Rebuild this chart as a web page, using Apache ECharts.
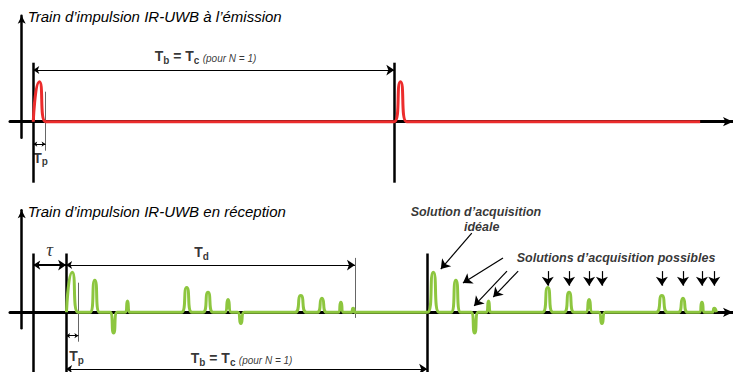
<!DOCTYPE html>
<html><head><meta charset="utf-8">
<script src="https://cdn.jsdelivr.net/npm/echarts@6/dist/echarts.min.js"></script>
<style>html,body{margin:0;padding:0;background:#fff}#c{width:733px;height:372px}</style>
</head><body><div id="c"></div>
<script>
// ---- data (time in arbitrary units, Tb = 100) ----
const titles = ['Train d’impulsion IR-UWB à l’émission', 'Train d’impulsion IR-UWB en réception'];
const PERIOD = 100;            // Tb = Tc
const TP = 3.4;                // pulse duration Tp
const TAU = 9.1;               // propagation delay tau
const TD = 80;                 // delay spread Td
const emitStarts = [3.2, 103.2];
const emitAmp = 1.0;
const emitLineEnd = 187.9;
const recvStarts = [12.3, 112.3];
const pathPeaks = [1.7, 7.95, 13.15, 17.0, 33.4, 39.3, 44.85, 48.4, 65.0, 70.85, 76.1, 79.5];
const pathAmps = [1.0, 0.8, -0.52, 0.28, 0.62, 0.5, 0.32, -0.28, 0.42, 0.35, 0.25, 0.1];
const pathHalfWidths = [1.6, 1.35, 1.0, 0.6, 1.45, 1.4, 0.9, 0.9, 1.6, 1.3, 0.75, 0.6];
const possibleIdx = [4, 5, 6, 7, 8, 9, 10, 11];

// ---- build series data ----
const red = [];
emitStarts.forEach(s => { red.push([s, 0], [s + TP / 2, emitAmp], [s + TP, 0]); });
red.push([emitLineEnd, 0]);

const green = [];
recvStarts.forEach(s => pathPeaks.forEach((p, i) => {
  const c = s + p, h = pathHalfWidths[i];
  green.push([c - h, 0], [c, pathAmps[i]], [c + h, 0]);
}));

const FONT = 'Liberation Sans';
const R = {
  b: {fontFamily: FONT, fontSize: 14, fontWeight: 'bold', color: '#000'},
  s: {fontFamily: FONT, fontSize: 10, fontWeight: 'bold', color: '#000', padding: [8, 0, 0, 0]},
  i: {fontFamily: FONT, fontSize: 10, fontStyle: 'italic', color: '#000', padding: [4, 0, 0, 0]},
  tau: {fontFamily: 'Liberation Serif', fontSize: 19, fontStyle: 'italic', color: '#000'},
  bi: {fontFamily: FONT, fontSize: 12.5, fontStyle: 'italic', fontWeight: 'bold', color: '#000'}
};
function lbl(x, y, f) {
  return {value: [x, y], label: {show: true, position: 'inside', formatter: f, rich: R}};
}
function linesSeries(g, coordsList, style, symbol, symbolSize) {
  return {
    type: 'lines', coordinateSystem: 'cartesian2d', xAxisIndex: g, yAxisIndex: g,
    polyline: false, clip: false, silent: true, z: 4,
    symbol: symbol || ['none', 'none'], symbolSize: symbolSize || 6,
    lineStyle: Object.assign({opacity: 1, curveness: 0}, style),
    data: coordsList.map(c => ({coords: c}))
  };
}

const tbLabel = '{b|T}{s|b}{b| = T}{s|c} {i|(pour N = 1)}';
const r0 = recvStarts[0], r1 = recvStarts[1];

const axisX = {
  type: 'value', min: -3.24, max: 197,
  axisLine: {show: true, onZero: true, symbol: ['none', 'arrow'], symbolSize: [7, 10], lineStyle: {color: '#000', width: 3}},
  axisTick: {show: false}, axisLabel: {show: false}, splitLine: {show: false}
};
function axisY(i, max) {
  return {
    type: 'value', min: -0.4, max: max, gridIndex: i,
    name: titles[i], nameLocation: 'end', nameGap: -1,
    nameTextStyle: {fontFamily: FONT, fontStyle: 'italic', fontSize: 15, color: '#000', align: 'left', verticalAlign: 'middle', padding: [0, 0, 0, 6]},
    axisLine: {show: true, onZero: true, symbol: ['none', 'arrow'], symbolSize: [6, 8], lineStyle: {color: '#000', width: 2.5}},
    axisTick: {show: false}, axisLabel: {show: false}, splitLine: {show: false}
  };
}

const option = {
  animation: false,
  backgroundColor: '#fff',
  grid: [
    {left: 10, right: 0, top: 15.7, height: 122},
    {left: 10, right: 0, top: 210.3, height: 118}
  ],
  xAxis: [Object.assign({gridIndex: 0}, axisX), Object.assign({gridIndex: 1}, axisX)],
  yAxis: [axisY(0, 2.65), axisY(1, 2.55)],
  series: [
    // black period markers
    linesSeries(0, emitStarts.map(s => [[s, 1.475], [s, -1.525]]), {color: '#000', width: 2.5}),
    linesSeries(1, [r0 - TAU, r0, r1].map(s => [[s, 1.47], [s, -1.5]]), {color: '#000', width: 2.5}),
    // thin grey markers (Tp, Td)
    linesSeries(0, [[[emitStarts[0] + TP, 0.75], [emitStarts[0] + TP, -0.725]]], {color: '#666', width: 1}),
    linesSeries(1, [[[r0 + TP, 0.74], [r0 + TP, -0.735]], [[r0 + TD, 1.36], [r0 + TD, -0.14]]], {color: '#666', width: 1}),
    // dimension arrows
    linesSeries(0, [[[emitStarts[0], 1.29], [emitStarts[0] + PERIOD, 1.29]]], {color: '#000', width: 1}, ['arrow', 'arrow'], [6, 8]),
    linesSeries(0, [[[emitStarts[0], -0.56], [emitStarts[0] + TP, -0.56]]], {color: '#000', width: 1}, ['arrow', 'arrow'], [4, 4]),
    linesSeries(1, [[[r0, 1.18], [r0 + TD, 1.18]], [[r0, -1.42], [r0 + PERIOD, -1.42]]], {color: '#000', width: 1}, ['arrow', 'arrow'], [6, 8]),
    linesSeries(1, [[[r0 - TAU, 1.18], [r0, 1.18]]], {color: '#000', width: 2}, ['arrow', 'arrow'], [7, 8]),
    linesSeries(1, [[[r0, -0.585], [r0 + TP, -0.585]]], {color: '#000', width: 1}, ['arrow', 'arrow'], [4, 4]),
    // annotation arrows
    linesSeries(1, [
      [[124.65, 1.98], [116.07, 1.08]],
      [[133.3, 1.36], [122.2, 0.73]],
      [[134.4, 1.03], [125.3, 0.16]],
      [[137.5, 1.03], [130.6, 0.38]]
    ].concat(possibleIdx.map(i => [[r1 + pathPeaks[i], 1.03], [r1 + pathPeaks[i], 0.665]])),
    {color: '#000', width: 1.2}, ['none', 'arrow'], [7, 9]),
    // signals
    {type: 'line', xAxisIndex: 0, yAxisIndex: 0, data: red, smooth: 0.7, symbol: 'none', clip: false, z: 6,
     lineStyle: {color: '#ec2c2c', width: 3}},
    {type: 'line', xAxisIndex: 1, yAxisIndex: 1, data: green, smooth: 0.7, symbol: 'none', clip: false, z: 6,
     lineStyle: {color: '#8dc63f', width: 3}},
    // text labels
    {type: 'scatter', xAxisIndex: 0, yAxisIndex: 0, symbolSize: 0, clip: false, silent: true, z: 10,
     data: [lbl(emitStarts[0] + 47.7, 1.64, tbLabel), lbl(emitStarts[0] + 2.0, -0.9, '{b|T}{s|p}')]},
    {type: 'scatter', xAxisIndex: 1, yAxisIndex: 1, symbolSize: 0, clip: false, silent: true, z: 10,
     data: [
       lbl(r0 - TAU / 2, 1.56, '{tau|τ}'),
       lbl(r0 + 37.5, 1.5, '{b|T}{s|d}'),
       lbl(r0 + 2.9, -1.1, '{b|T}{s|p}'),
       lbl(r0 + 48.6, -1.15, tbLabel),
       lbl(125.8, 2.515, '{bi|Solution d’acquisition}'),
       lbl(127.4, 2.125, '{bi|idéale}'),
       lbl(164.6, 1.35, '{bi|Solutions d’acquisition possibles}')
     ]}
  ]
};
const chart = echarts.init(document.getElementById('c'), null, {renderer: 'svg'});
chart.setOption(option);
</script></body></html>
